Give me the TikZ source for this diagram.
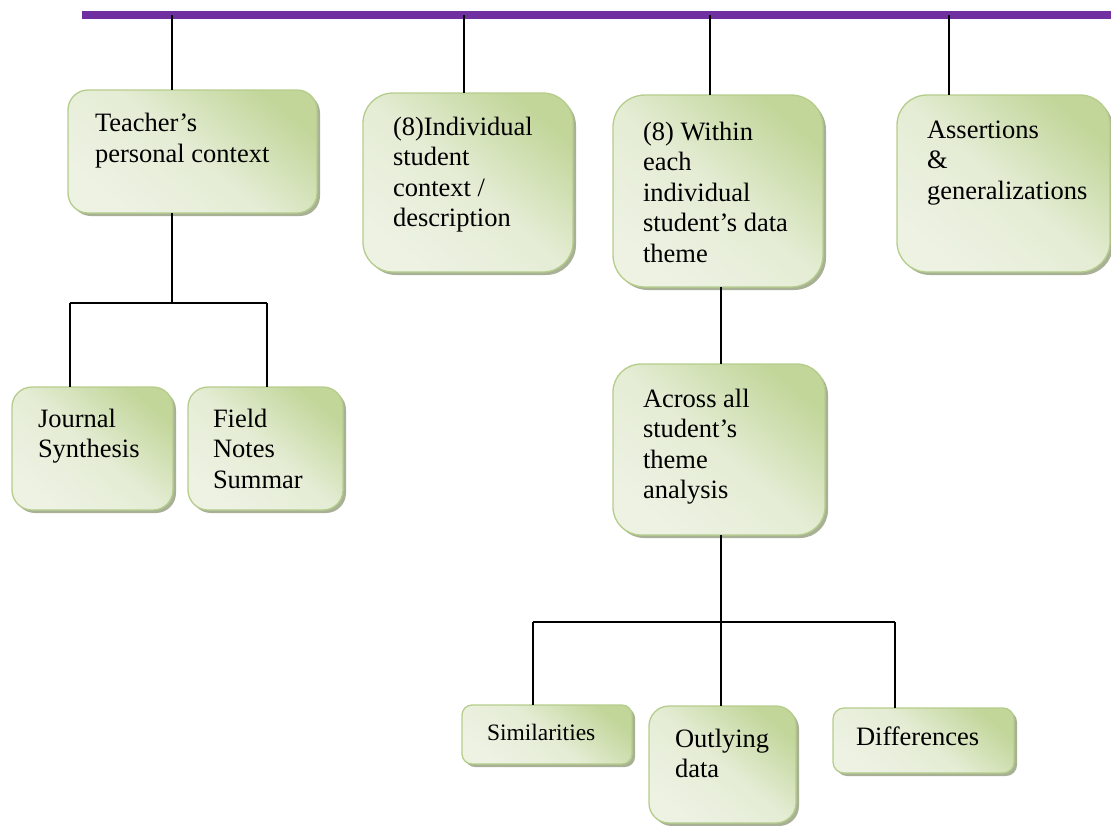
\documentclass[tikz,border=0pt]{standalone}
\usepackage{fontspec}
\setmainfont{Liberation Serif}
\usetikzlibrary{shadows}
\definecolor{barpurple}{HTML}{7030A0}
\definecolor{gdark}{HTML}{C2D69A}
\definecolor{glight}{HTML}{EDF2E3}
\definecolor{gedge}{HTML}{B5CD8B}
\definecolor{shadowc}{HTML}{9EA88A}
\newcommand\firstln{\rule{0pt}{20pt}}
\begin{document}
\begin{tikzpicture}[x=1pt,y=-1pt,
  gbox/.style={rectangle, draw=gedge, line width=1.3pt, inner sep=0pt, outer sep=0pt,
    top color=gdark, bottom color=glight, middle color=glight!80!gdark, shading angle=-40,
    anchor=north west,
    drop shadow={shadow xshift=3pt, shadow yshift=-3pt, fill=shadowc, opacity=0.9}},
  txt/.style={align=left, inner sep=0pt, outer sep=0pt, anchor=north west,
    font=\fontsize{26.5}{30.5}\selectfont},
  conn/.style={draw=black, line width=1.3pt},
  bar/.style={draw=barpurple, line width=7.5pt}]
\useasboundingbox (0,0) rectangle (1111,825);

% boxes
\node[gbox, rounded corners=20pt, minimum width=249pt, minimum height=123pt] (b1) at (68,90) {};
\node[gbox, rounded corners=30pt, minimum width=210pt, minimum height=179pt] (b2) at (363,93) {};
\node[gbox, rounded corners=32pt, minimum width=210pt, minimum height=192pt] (b3) at (613,95) {};
\node[gbox, rounded corners=30pt, minimum width=213pt, minimum height=177pt] (b4) at (897,95) {};
\node[gbox, rounded corners=20pt, minimum width=161pt, minimum height=123pt] (b5) at (12,387) {};
\node[gbox, rounded corners=20pt, minimum width=155pt, minimum height=123pt] (b6) at (188,387) {};
\node[gbox, rounded corners=28pt, minimum width=212pt, minimum height=171pt] (b7) at (613,364) {};
\node[gbox, rounded corners=10pt, minimum width=170pt, minimum height=59pt] (b8) at (462,705) {};
\node[gbox, rounded corners=20pt, minimum width=147pt, minimum height=117pt] (b9) at (649,706) {};
\node[gbox, rounded corners=11pt, minimum width=181pt, minimum height=65pt] (b10) at (833,708) {};

% texts
\node[txt, font=\fontsize{26.5}{31}\selectfont] (t1) at (95,111) {\firstln Teacher’s\\personal context};
\node[txt] (t2) at (393,115) {\firstln (8)Individual\\student\\context /\\description};
\node[txt] (t3) at (643,120) {\firstln (8) Within\\each\\individual\\student’s data\\theme};
\node[txt] (t4) at (927,118) {\firstln Assertions\\\&\\generalizations};
\node[txt] (t5) at (38,407) {\firstln Journal\\Synthesis};
\node[txt] (t6) at (213,407) {\firstln Field\\Notes\\Summar};
\node[txt] (t7) at (643,387) {\firstln Across all\\student’s\\theme\\analysis};
\node[txt, font=\fontsize{23.5}{27}\selectfont] (t8) at (487,720) {\firstln Similarities};
\node[txt, font=\fontsize{26.5}{30}\selectfont] (t9) at (675,727) {\firstln Outlying\\data};
\node[txt] (t10) at (856,725) {\firstln Differences};

% top bar
\coordinate (barL) at (82,15);
\coordinate (barR) at (1111,15);
\draw[bar] (barL) -- (barR);

% connectors from bar
\coordinate (k1) at (172,15);
\coordinate (k2) at (464,15);
\coordinate (k3) at (710,15);
\coordinate (k4) at (949,15);
\draw[conn] (k1) -- (k1 |- b1.north);
\draw[conn] (k2) -- (k2 |- b2.north);
\draw[conn] (k3) -- (k3 |- b3.north);
\draw[conn] (k4) -- (k4 |- b4.north);

% teacher subtree
\coordinate (j1) at (172,303);
\coordinate (j5) at (70,303);
\coordinate (j6) at (267,303);
\draw[conn] (b1.south -| j1) -- (j1);
\draw[conn] (j5) -- (j6);
\draw[conn] (j5) -- (j5 |- b5.north);
\draw[conn] (j6) -- (j6 |- b6.north);

% within -> across
\coordinate (k7) at (721,300);
\draw[conn] (b3.south -| k7) -- (b7.north -| k7);

% across subtree
\coordinate (j7) at (721,622);
\coordinate (j8) at (533,622);
\coordinate (j10) at (895,622);
\draw[conn] (b7.south -| j7) -- (j7);
\draw[conn] (j8) -- (j10);
\draw[conn] (j8) -- (j8 |- b8.north);
\draw[conn] (j7) -- (j7 |- b9.north);
\draw[conn] (j10) -- (j10 |- b10.north);
\end{tikzpicture}
\end{document}
